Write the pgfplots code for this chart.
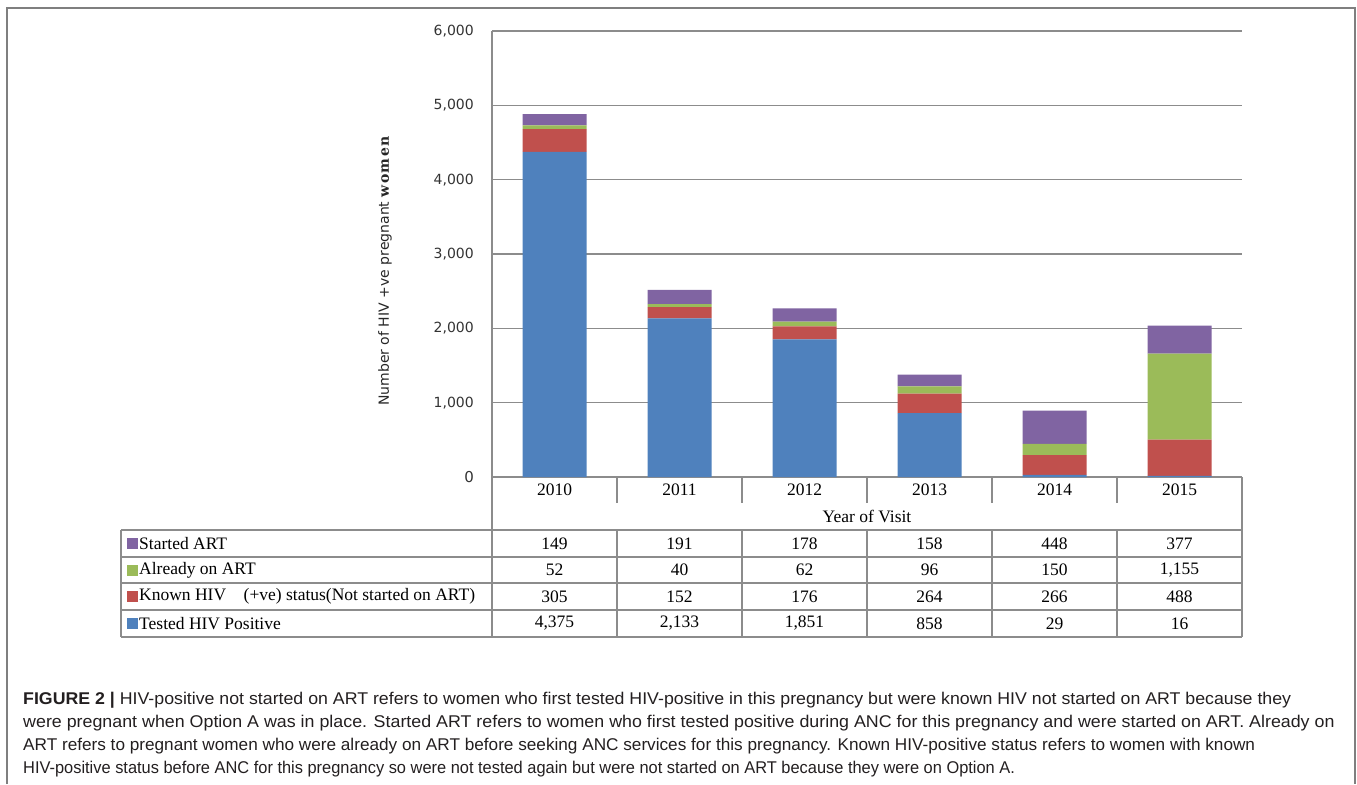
\documentclass[border=0pt]{standalone}
\usepackage{pgfplots}
\pgfplotsset{compat=1.18}
\usepackage{pgfplotstable}
\usepackage{fontspec}
\setmainfont{Liberation Serif}
\newfontfamily\capfont{Liberation Sans}
\newfontfamily\tickfont{DejaVu Sans}
\newfontfamily\wfont[LetterSpace=10]{DejaVu Serif}

\definecolor{cStart}{HTML}{8064A2}
\definecolor{cAlready}{HTML}{9BBB59}
\definecolor{cKnown}{HTML}{C0504D}
\definecolor{cTested}{HTML}{4F81BD}
\definecolor{gridgray}{HTML}{8C8C8C}
\definecolor{framegray}{HTML}{7F7F7F}
\definecolor{captext}{HTML}{231F20}

% year index, then the four stacked series (bottom to top)
\pgfplotstableread{
x tested known already started
0 4375 305 52 149
1 2133 152 40 191
2 1851 176 62 178
3 858 264 96 158
4 29 266 150 448
5 16 488 1155 377
}\hivdata

\newcommand{\tabfont}{\fontsize{17.5bp}{20bp}\selectfont}

\begin{document}
\begin{tikzpicture}
\begin{scope}[x=1bp,y=-1bp]
  \useasboundingbox (0,0) rectangle (1357,784);
\end{scope}

\begin{axis}[
    at={(492bp,-477bp)}, anchor=south west,
    scale only axis, width=750bp, height=446bp,
    xmin=-0.5, xmax=5.5, ymin=0, ymax=6000,
    ybar stacked, bar width=64bp,
    axis x line=none,
    axis y line=left,
    y axis line style={-, draw=gridgray, line width=1.5bp},
    ymajorgrids, grid style={draw=gridgray, line width=1.5bp},
    ytick={0,1000,...,6000},
    yticklabels={{\fontsize{15bp}{17bp}\selectfont 0},1{,}000,2{,}000,3{,}000,4{,}000,5{,}000,6{,}000},
    major tick length=0pt,
    yticklabel style={anchor=east, inner sep=0pt, xshift=-18bp,
      font=\tickfont\fontsize{14bp}{16bp}\selectfont, text=black!80},
]
  \addplot[fill=cTested, draw=none] table[x=x, y=tested] {\hivdata};
  \addplot[fill=cKnown, draw=none] table[x=x, y=known] {\hivdata};
  \addplot[fill=cAlready, draw=none] table[x=x, y=already] {\hivdata};
  \addplot[fill=cStart, draw=none] table[x=x, y=started] {\hivdata};
\end{axis}

\begin{scope}[x=1bp,y=-1bp]
  % outer figure frame
  \draw[framegray, line width=1.5bp] (7,784) -- (7,8) -- (1355,8) -- (1355,784);

  % y label
  \node[rotate=90, font=\tickfont\fontsize{14bp}{16bp}\selectfont, text=black!85]
    at (385,271) {Number of HIV +ve pregnant {\wfont\bfseries women}};

  % data table under the axis
  \begin{scope}[draw=gridgray, line width=1.5bp]
    \draw (492,477) -- (492,637);
    \draw (1242,477) -- (1242,637);
    \foreach \c in {617,742,867,992,1117} {
      \draw (\c,477) -- (\c,503);
      \draw (\c,530) -- (\c,637);
    }
    \draw (121,530) -- (121,637);
    \foreach \r in {530,557,583,610,637}
      \draw (121,\r) -- (1242,\r);
  \end{scope}

  \foreach \yr [count=\i from 0] in {2010,2011,2012,2013,2014,2015}
    \node[font=\tabfont] at (554.5+125*\i,490) {\yr};
  \node[font=\tabfont] at (867,516) {Year of Visit};

  \foreach \lab/\col/\yy in {Started ART/cStart/543.5, Already on ART/cAlready/570,
      Known HIV\quad(+ve)\ status(Not started on ART)/cKnown/596.5,
      Tested HIV Positive/cTested/623.5} {
    \fill[\col] (127,\yy-5.5) rectangle (138,\yy+5.5);
    \node[font=\tabfont, anchor=west, inner sep=0pt] at (139,\yy) {\lab};
  }

  \foreach \v [count=\i from 0] in {149,191,178,158,448,377}
    \node[font=\tabfont] at (554.5+125*\i,543.5) {\v};
  \foreach \v [count=\i from 0] in {52,40,62,96,150,{1,155}}
    \node[font=\tabfont] at (554.5+125*\i,570) {\v};
  \foreach \v [count=\i from 0] in {305,152,176,264,266,488}
    \node[font=\tabfont] at (554.5+125*\i,596.5) {\v};
  \foreach \v [count=\i from 0] in {{4,375},{2,133},{1,851},858,29,16}
    \node[font=\tabfont] at (554.5+125*\i,623.5) {\v};

  % caption, one node per printed line
  \begin{scope}[every node/.style={anchor=west, inner sep=0pt, text=captext,
      font=\capfont\fontsize{17bp}{20bp}\selectfont}]
    \node[xscale=1.044] at (23,700) {\textbf{FIGURE 2 |} HIV-positive not started on ART refers to women who first tested HIV-positive in this pregnancy but were known HIV not started on ART because they};
    \node[xscale=1.049] at (23,723) {were pregnant when Option A was in place. Started ART refers to women who first tested positive during ANC for this pregnancy and were started on ART. Already on};
    \node[xscale=1.011] at (23,746) {ART refers to pregnant women who were already on ART before seeking ANC services for this pregnancy. Known HIV-positive status refers to women with known};
    \node[xscale=0.965] at (23,769) {HIV-positive status before ANC for this pregnancy so were not tested again but were not started on ART because they were on Option A.};
  \end{scope}
\end{scope}
\end{tikzpicture}
\end{document}
